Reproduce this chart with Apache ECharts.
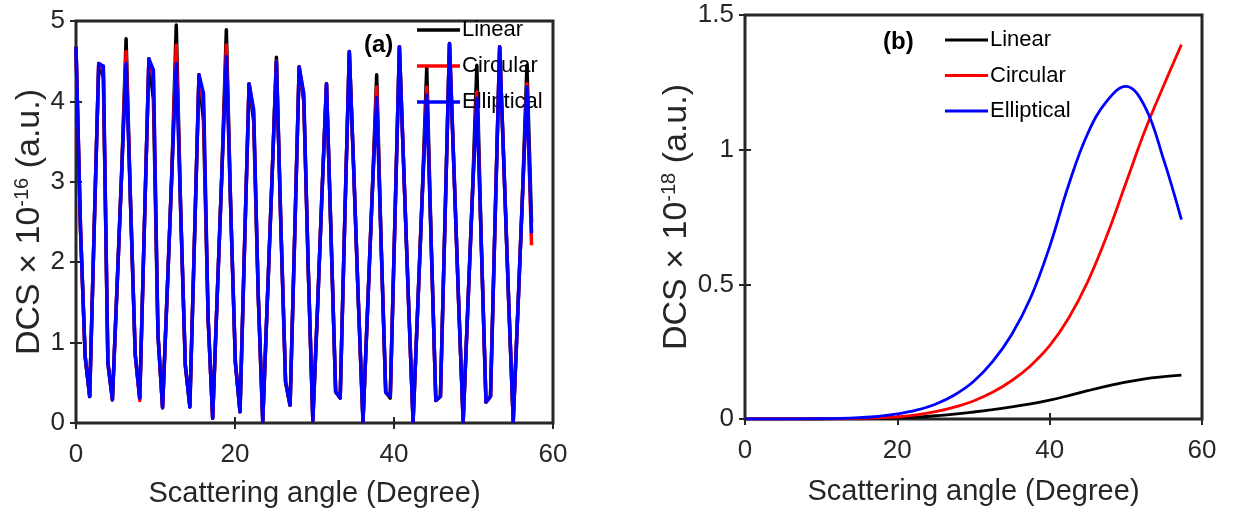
<!DOCTYPE html>
<html>
<head>
<meta charset="utf-8">
<script src="https://cdn.jsdelivr.net/npm/echarts@6/dist/echarts.min.js"></script>
<style>html,body{margin:0;padding:0;background:#fff}#c{width:1250px;height:514px}</style>
</head>
<body>
<div id="c"></div>
<script>
// ---------- Panel (a) data ----------
const anglesA = [0,0.57,1.15,1.72,2.29,2.86,3.44,4.01,4.58,5.16,5.73,6.30,6.88,7.45,8.02,8.59,9.17,9.74,10.31,10.89,
11.46,12.03,12.61,13.18,13.75,14.32,14.90,15.47,16.04,16.62,17.19,17.76,18.33,18.91,19.48,20.05,20.63,21.20,21.77,22.35,
22.92,23.49,24.06,24.64,25.21,25.78,26.36,26.93,27.50,28.07,28.65,29.22,29.79,30.37,30.94,31.51,32.09,32.66,33.23,33.80,
34.38,34.95,35.52,36.10,36.67,37.24,37.82,38.39,38.96,39.53,40.11,40.68,41.25,41.83,42.40,42.97,43.54,44.12,44.69,45.26,
45.84,46.41,46.98,47.56,48.13,48.70,49.27,49.85,50.42,50.99,51.57,52.14,52.71,53.29,53.86,54.43,55.00,55.58,56.15,56.72,57.30];

const ellipticalA = [4.68,2.40,0.83,0.33,2.43,4.47,4.44,0.75,0.29,1.68,3.08,4.47,2.67,0.85,0.31,2.41,4.53,4.39,1.10,0.19,
1.60,3.04,4.47,2.60,0.72,0.20,2.27,4.33,4.10,1.30,0.06,1.57,3.06,4.56,2.60,0.75,0.14,2.20,4.22,3.90,
1.60,0.02,1.50,3.00,4.49,2.42,0.51,0.22,2.30,4.43,4.10,1.90,0.03,1.40,2.85,4.22,2.30,0.39,0.31,2.50,
4.62,3.10,1.50,0.02,1.40,2.80,4.05,2.20,0.38,0.33,2.50,4.68,3.10,1.50,0.02,1.40,2.80,4.08,2.20,0.28,
0.33,2.50,4.72,3.10,1.50,0.02,1.40,2.80,4.04,2.20,0.26,0.33,2.50,4.68,3.10,1.50,0.02,1.40,2.80,4.18,2.36];

const circularA = [4.68,2.40,0.83,0.33,2.43,4.47,4.39,0.75,0.29,1.68,3.08,4.62,2.67,0.85,0.28,2.41,4.53,4.29,1.10,0.19,
1.60,3.04,4.70,2.60,0.72,0.22,2.27,4.33,3.95,1.30,0.06,1.57,3.06,4.70,2.60,0.75,0.14,2.20,4.22,3.85,
1.60,0.02,1.50,3.00,4.50,2.42,0.51,0.22,2.30,4.43,4.05,1.90,0.03,1.40,2.85,4.22,2.30,0.39,0.31,2.50,
4.62,3.10,1.50,0.02,1.40,2.80,4.18,2.20,0.38,0.33,2.50,4.68,3.10,1.50,0.02,1.40,2.80,4.18,2.20,0.28,
0.33,2.50,4.72,3.10,1.50,0.02,1.40,2.80,4.12,2.20,0.26,0.33,2.50,4.68,3.10,1.50,0.02,1.40,2.80,4.22,2.21];

const linearA = [4.68,2.40,0.83,0.33,2.43,4.47,4.30,0.75,0.29,1.68,3.08,4.78,2.67,0.85,0.31,2.41,4.53,4.02,1.10,0.19,
1.60,3.04,4.95,2.60,0.72,0.20,2.27,4.33,3.75,1.30,0.06,1.57,3.06,4.89,2.60,0.75,0.14,2.20,4.22,3.75,
1.60,0.02,1.50,3.00,4.55,2.42,0.51,0.22,2.30,4.43,4.00,1.90,0.03,1.40,2.85,4.22,2.30,0.39,0.31,2.50,
4.62,3.10,1.50,0.02,1.40,2.80,4.33,2.20,0.38,0.31,2.50,4.68,3.10,1.50,0.02,1.40,2.80,4.43,2.20,0.28,
0.33,2.50,4.72,3.10,1.50,0.02,1.40,2.80,4.45,2.20,0.26,0.33,2.50,4.68,3.10,1.50,0.02,1.40,2.80,4.45,2.49];

// ---------- Panel (b) data ----------
const anglesB = [0,5,10,12.5,15,17.5,20,22.5,25,27.5,30,32.5,35,37.5,40,42.5,45,47.5,50,52.5,55,57.3];
const linearB = [0,0,0,0.0005,0.001,0.002,0.004,0.007,0.012,0.018,0.026,0.035,0.045,0.056,0.070,0.087,0.105,0.122,0.137,0.149,0.157,0.163];
const circularB = [0,0,0,0.001,0.002,0.004,0.008,0.015,0.027,0.044,0.067,0.099,0.142,0.198,0.272,0.375,0.510,0.680,0.875,1.070,1.240,1.390];
const ellipticalB = [0,0,0.001,0.002,0.005,0.010,0.019,0.033,0.055,0.089,0.139,0.213,0.313,0.450,0.640,0.870,1.060,1.180,1.235,1.160,0.960,0.740];

const seriesNames = ['Linear','Circular','Elliptical'];
const seriesColors = ['#000000','#ff0000','#0000ff'];
const xTicks = {min:0, max:60, interval:20};
const yTicksA = {min:0, max:5, interval:1};
const yTicksB = {min:0, max:1.5, interval:0.5};

// ---------- build ----------
const pairs = (xs, ys) => xs.map((x,i)=>[x, ys[i]]);
const FONT = "'Liberation Sans', Arial, sans-serif";
const TXT = '#262626';

const grids = [
  {left:76, top:21, width:477, height:402, show:true, borderColor:TXT, borderWidth:3, backgroundColor:'transparent', outerBoundsMode:'none'},
  {left:745, top:15, width:457, height:404, show:true, borderColor:TXT, borderWidth:3, backgroundColor:'transparent', outerBoundsMode:'none'}
];

function xAxes(gi, gap){
  return [
    {type:'value', gridIndex:gi, position:'bottom', ...xTicks,
     axisLine:{show:false}, splitLine:{show:false},
     axisTick:{inside:true, length:6, lineStyle:{color:TXT, width:2}},
     axisLabel:{color:TXT, fontSize:26, fontFamily:FONT, margin:19},
     name:'Scattering angle (Degree)', nameLocation:'middle', nameGap:gap,
     nameTextStyle:{color:TXT, fontSize:29, fontFamily:FONT}},
    {type:'value', gridIndex:gi, position:'top', ...xTicks,
     axisLine:{show:false}, splitLine:{show:false}, axisLabel:{show:false},
     axisTick:{inside:true, length:6, lineStyle:{color:TXT, width:2}}}
  ];
}
function yAxes(gi, ticks, exp, gap){
  return [
    {type:'value', gridIndex:gi, position:'left', ...ticks,
     axisLine:{show:false}, splitLine:{show:false},
     axisTick:{inside:true, length:6, lineStyle:{color:TXT, width:2}},
     axisLabel:{color:TXT, fontSize:26, fontFamily:FONT, margin:11},
     name:'{t|DCS × 10}{s|' + exp + '}{t| (a.u.)}', nameLocation:'middle', nameGap:gap, nameRotate:90,
     nameTextStyle:{color:TXT, fontFamily:FONT,
       rich:{t:{fontSize:34, color:TXT, fontFamily:FONT, verticalAlign:'bottom'},
             s:{fontSize:20, color:TXT, fontFamily:FONT, verticalAlign:'top'}}}},
    {type:'value', gridIndex:gi, position:'right', ...ticks,
     axisLine:{show:false}, splitLine:{show:false}, axisLabel:{show:false},
     axisTick:{inside:true, length:6, lineStyle:{color:TXT, width:2}}}
  ];
}

const series = [];
const dataA = [linearA, circularA, ellipticalA];
const dataB = [linearB, circularB, ellipticalB];
seriesNames.forEach((n,i)=>{
  series.push({name:n, type:'line', xAxisIndex:0, yAxisIndex:0, data:pairs(anglesA, dataA[i]),
    symbol:'none', lineStyle:{color:seriesColors[i], width:3.5, join:'round'}, itemStyle:{color:seriesColors[i]}, z:2+i, animation:false});
});
seriesNames.forEach((n,i)=>{
  series.push({name:n, type:'line', xAxisIndex:2, yAxisIndex:2, data:pairs(anglesB, dataB[i]),
    symbol:'none', smooth:0.4, lineStyle:{color:seriesColors[i], width:2.8}, itemStyle:{color:seriesColors[i]}, z:2+i, animation:false});
});

const legendBase = {orient:'vertical', data:seriesNames, itemWidth:43, icon:'rect',
  textStyle:{color:'#000', fontSize:22, fontFamily:FONT, lineHeight:22, padding:[0,0,0,-3]},
  selectedMode:false, backgroundColor:'transparent'};

const option = {
  animation:false,
  backgroundColor:'#fff',
  grid: grids,
  xAxis: [...xAxes(0, 56), ...xAxes(1, 58)],
  yAxis: [...yAxes(0, yTicksA, '-16', 25), ...yAxes(1, yTicksB, '-18', 50)],
  legend: [
    {...legendBase, left:412, top:14, itemGap:14, itemHeight:3.5},
    {...legendBase, left:940, top:24, itemGap:13.5, itemHeight:3}
  ],
  graphic: [
    {type:'text', left:364, top:33, style:{text:'(a)', font:"bold 24px 'Liberation Sans', Arial, sans-serif", fill:'#000'}},
    {type:'text', left:883, top:30, style:{text:'(b)', font:"bold 24px 'Liberation Sans', Arial, sans-serif", fill:'#000'}}
  ],
  series: series
};
// xAxis indices: 0 bottom a, 1 top a, 2 bottom b, 3 top b; yAxis: 0 left a, 1 right a, 2 left b, 3 right b
const chart = echarts.init(document.getElementById('c'), null, {renderer:'canvas'});
chart.setOption(option);
</script>
</body>
</html>
